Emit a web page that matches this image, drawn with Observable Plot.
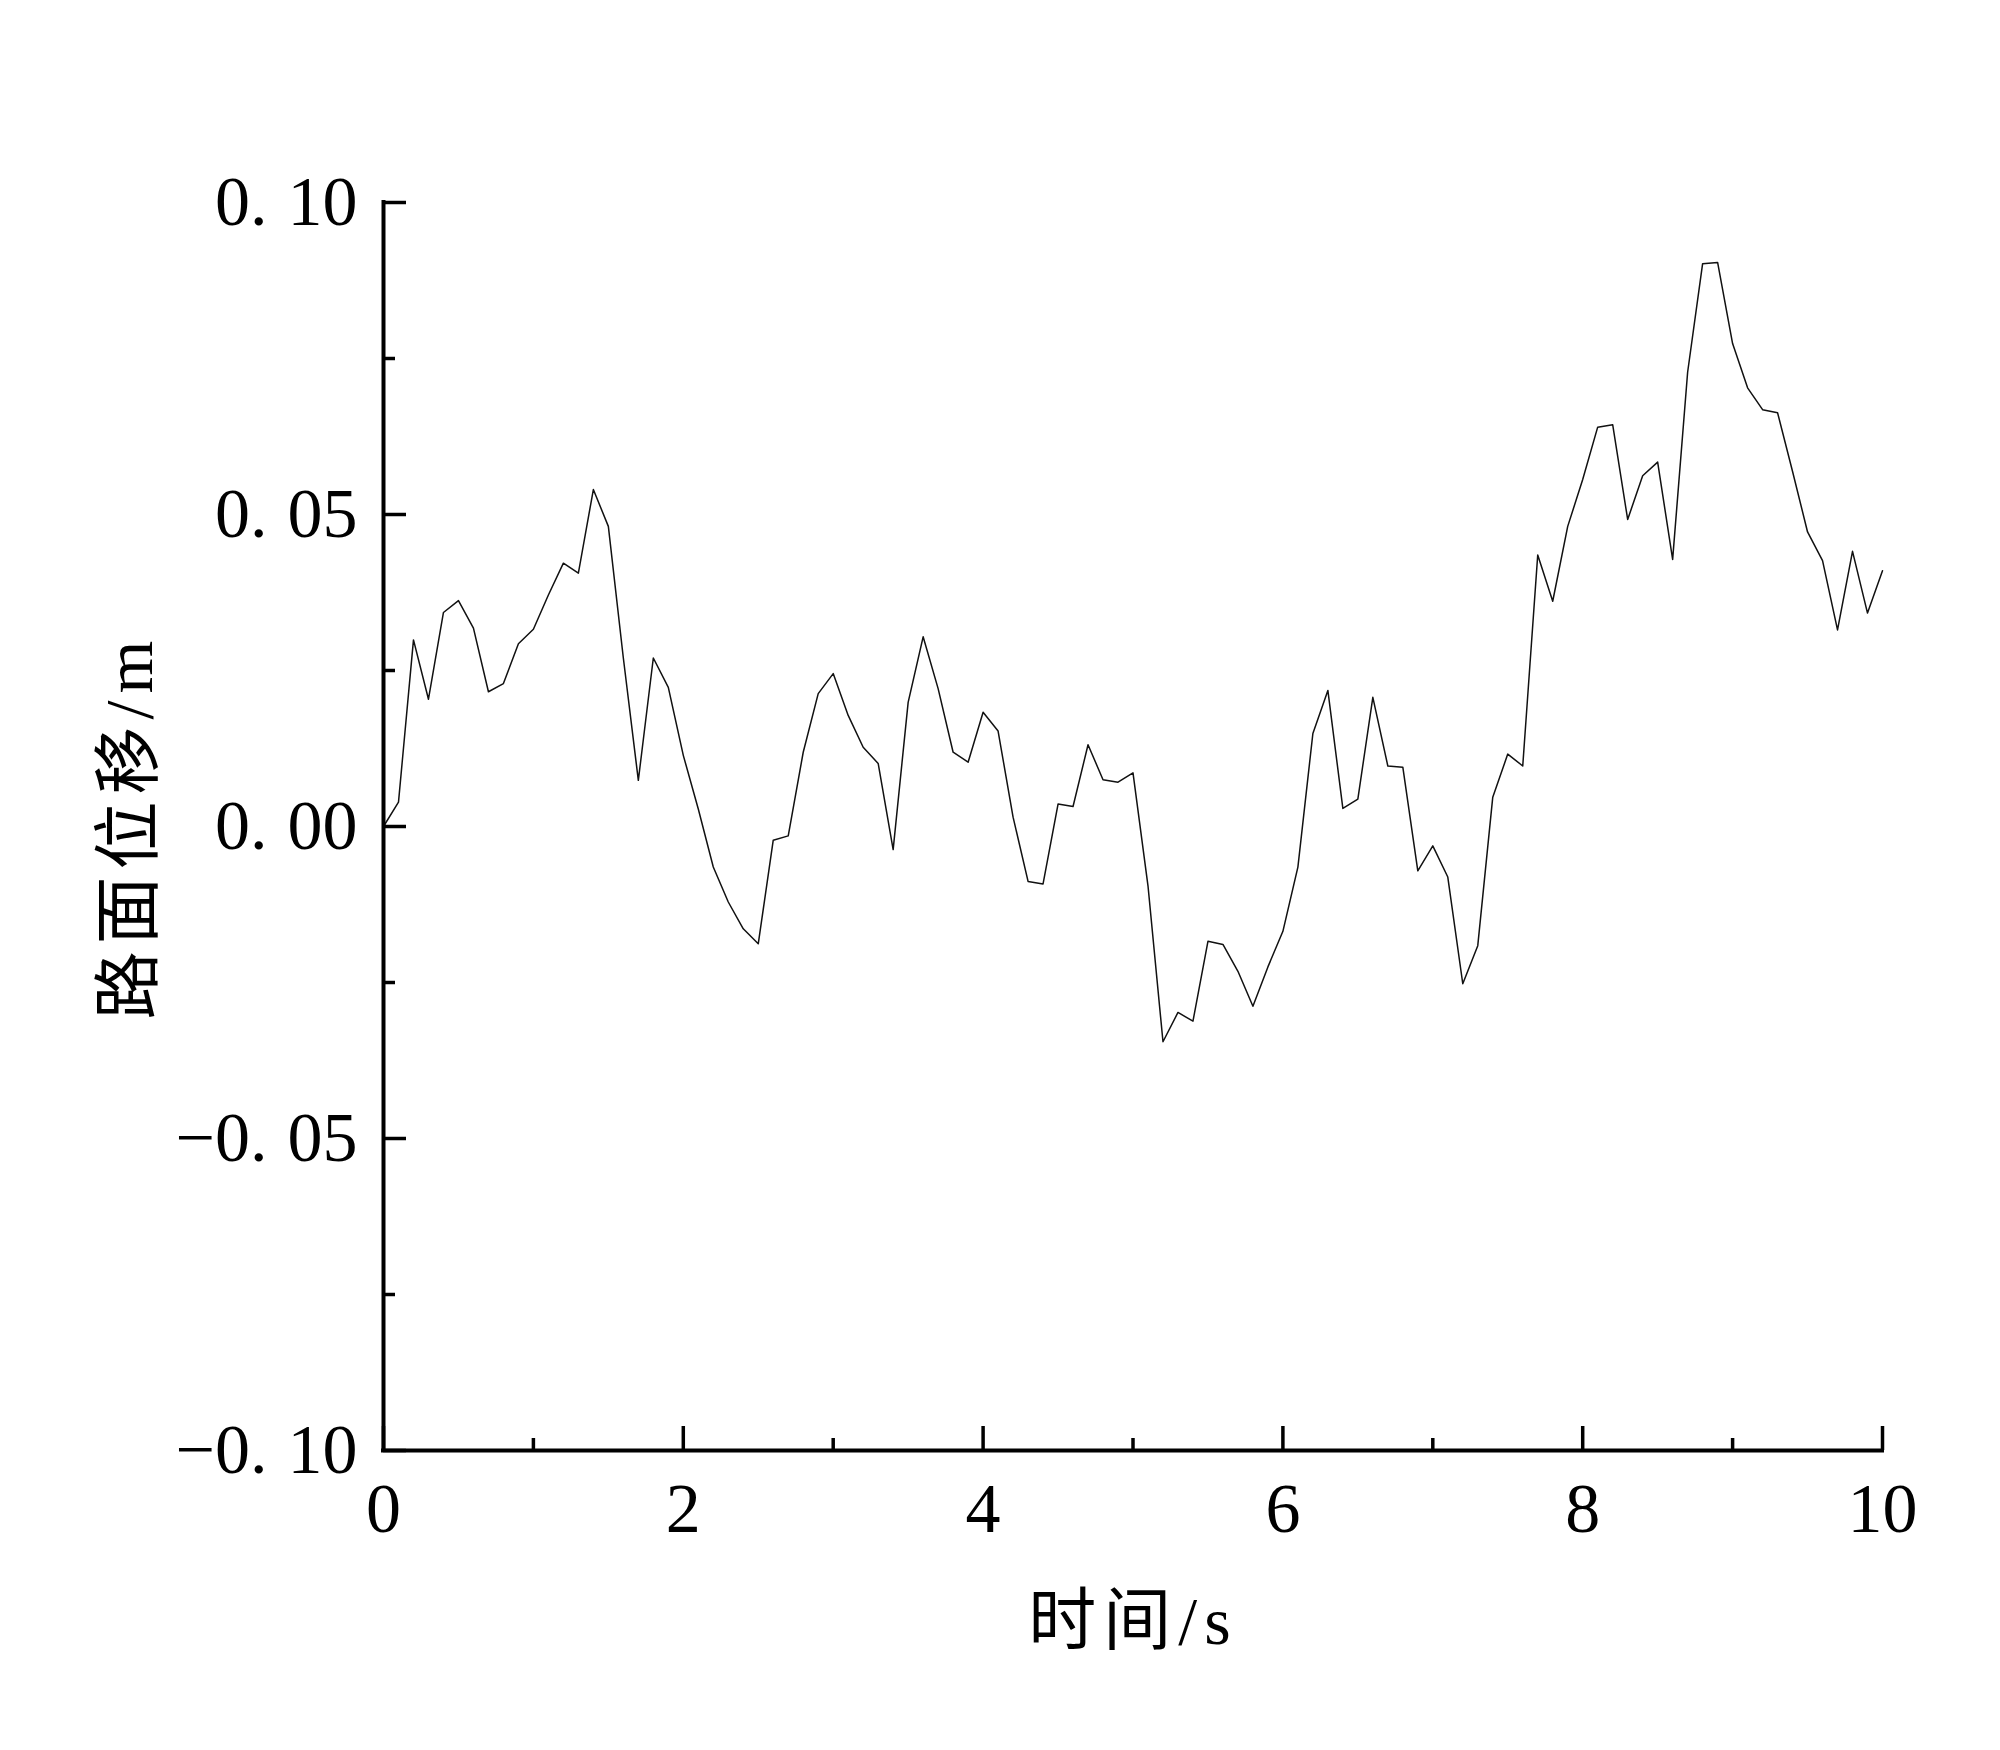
<!DOCTYPE html>
<html>
<head>
<meta charset="utf-8">
<script src="https://cdn.jsdelivr.net/npm/d3@7"></script>
<script src="https://cdn.jsdelivr.net/npm/@observablehq/plot@0.6"></script>
<style>
  html, body { margin: 0; padding: 0; background: #ffffff; }
  #chart { width: 2000px; height: 1750px; }
</style>
</head>
<body>
<div id="chart"></div>
<script>
// ---- data (time in s, road displacement in m) ----
const times = [
  0.0, 0.1, 0.2, 0.3, 0.4, 0.5, 0.6, 0.7, 0.8, 0.9,
  1.0, 1.1, 1.2, 1.3, 1.4, 1.5, 1.6, 1.7, 1.8, 1.9,
  2.0, 2.1, 2.2, 2.3, 2.4, 2.5, 2.6, 2.7, 2.8, 2.9,
  3.0, 3.1, 3.2, 3.3, 3.4, 3.5, 3.6, 3.7, 3.8, 3.9,
  4.0, 4.1, 4.2, 4.3, 4.4, 4.5, 4.6, 4.7, 4.8, 4.9,
  5.0, 5.1, 5.2, 5.3, 5.4, 5.5, 5.6, 5.7, 5.8, 5.9,
  6.0, 6.1, 6.2, 6.3, 6.4, 6.5, 6.6, 6.7, 6.8, 6.9,
  7.0, 7.1, 7.2, 7.3, 7.4, 7.5, 7.6, 7.7, 7.8, 7.9,
  8.0, 8.1, 8.2, 8.3, 8.4, 8.5, 8.6, 8.7, 8.8, 8.9,
  9.0, 9.1, 9.2, 9.3, 9.4, 9.5, 9.6, 9.7, 9.8, 9.9,
  10.0
];
const displacement = [
  0.0000, 0.0039, 0.0299, 0.0204, 0.0343, 0.0362, 0.0318, 0.0216, 0.0229, 0.0293,
  0.0316, 0.0371, 0.0422, 0.0406, 0.0540, 0.0481, 0.0270, 0.0074, 0.0270, 0.0223,
  0.0114, 0.0028, -0.0065, -0.0121, -0.0164, -0.0188, -0.0022, -0.0015, 0.0119, 0.0213,
  0.0245, 0.0178, 0.0127, 0.0101, -0.0037, 0.0199, 0.0304, 0.0221, 0.0119, 0.0103,
  0.0183, 0.0153, 0.0015, -0.0088, -0.0092, 0.0036, 0.0032, 0.0131, 0.0075, 0.0071,
  0.0086, -0.0095, -0.0345, -0.0298, -0.0312, -0.0184, -0.0189, -0.0232, -0.0288, -0.0225,
  -0.0168, -0.0065, 0.0149, 0.0218, 0.0029, 0.0044, 0.0207, 0.0097, 0.0095, -0.0071,
  -0.0031, -0.0081, -0.0252, -0.0191, 0.0047, 0.0116, 0.0097, 0.0435, 0.0361, 0.0481,
  0.0556, 0.0640, 0.0644, 0.0492, 0.0562, 0.0584, 0.0428, 0.0728, 0.0902, 0.0904,
  0.0774, 0.0703, 0.0668, 0.0663, 0.0569, 0.0472, 0.0426, 0.0315, 0.0441, 0.0342,
  0.0410
];
const xMajorTicks = [0, 2, 4, 6, 8, 10];
const xMinorTicks = [1, 3, 5, 7, 9];
const yMajorTicks = [-0.10, -0.05, 0.00, 0.05, 0.10];
const yMinorTicks = [-0.075, -0.025, 0.025, 0.075];
const xDomain = [0, 10];
const yDomain = [-0.10, 0.10];
const xTitle = "时间/s";
const yTitle = "路面位移/m";

const data = times.map((t, i) => ({t, v: displacement[i]}));

const FONT = '"Liberation Serif", "Noto Sans CJK SC", serif';
const yFmt = d => (d < 0 ? "\u2212" : "") + Math.abs(d).toFixed(2);

const chart = Plot.plot({
  width: 2000,
  height: 1750,
  marginLeft: 383,
  marginRight: 118,
  marginTop: 202,
  marginBottom: 300,
  style: {fontFamily: FONT, fontSize: "70px", background: "#ffffff", color: "#000000"},
  x: {domain: xDomain},
  y: {domain: yDomain},
  marks: [
    Plot.line(data, {x: "t", y: "v", stroke: "#111111", strokeWidth: 1.5}),
    // x axis ticks (inward)
    Plot.axisX({ticks: xMajorTicks, tickSize: -24, strokeWidth: 3.5, fill: "none", label: null}),
    Plot.axisX({ticks: xMinorTicks, tickSize: -12, strokeWidth: 3.5, fill: "none", label: null}),
    Plot.axisX({ticks: xMajorTicks, tickSize: 0, tickPadding: 32, tickFormat: d => String(d),
                fontSize: 70, label: null}),
    // y axis ticks (inward)
    Plot.axisY({ticks: yMajorTicks, tickSize: -23, strokeWidth: 3.5, fill: "none", label: null}),
    Plot.axisY({ticks: yMinorTicks, tickSize: -12, strokeWidth: 3.5, fill: "none", label: null}),
    Plot.axisY({ticks: yMajorTicks, tickSize: 0, tickPadding: 26, tickFormat: yFmt,
                fontSize: 70, label: null}),
    // axis lines
    Plot.ruleY([yDomain[0]], {strokeWidth: 4, strokeLinecap: "square"}),
    Plot.ruleX([xDomain[0]], {strokeWidth: 4, strokeLinecap: "square"}),
    // axis titles
    Plot.text([yTitle], {text: d => d, frameAnchor: "left", dx: -253, rotate: -90,
                         fontSize: 68, lineAnchor: "middle", textAnchor: "middle", fill: "#000"}),
    Plot.text([xTitle], {text: d => d, frameAnchor: "bottom", dy: 172,
                         fontSize: 68, lineAnchor: "middle", textAnchor: "middle", fill: "#000"})
  ]
});

// mimic the wide gap after the decimal point in the y tick labels
chart.querySelectorAll('g[aria-label="y-axis tick label"] text').forEach(el => {
  const s = el.textContent;
  const k = s.indexOf(".");
  if (k >= 0) {
    el.textContent = s.slice(0, k + 1);
    const ts = document.createElementNS("http://www.w3.org/2000/svg", "tspan");
    ts.setAttribute("dx", "20");
    ts.textContent = s.slice(k + 1);
    el.appendChild(ts);
  }
});
// wider letter spacing in the axis titles, as in the reference
chart.querySelectorAll('g[aria-label="text"] text').forEach(el => {
  el.setAttribute("letter-spacing", "7");
});

document.getElementById("chart").appendChild(chart);
</script>
</body>
</html>
